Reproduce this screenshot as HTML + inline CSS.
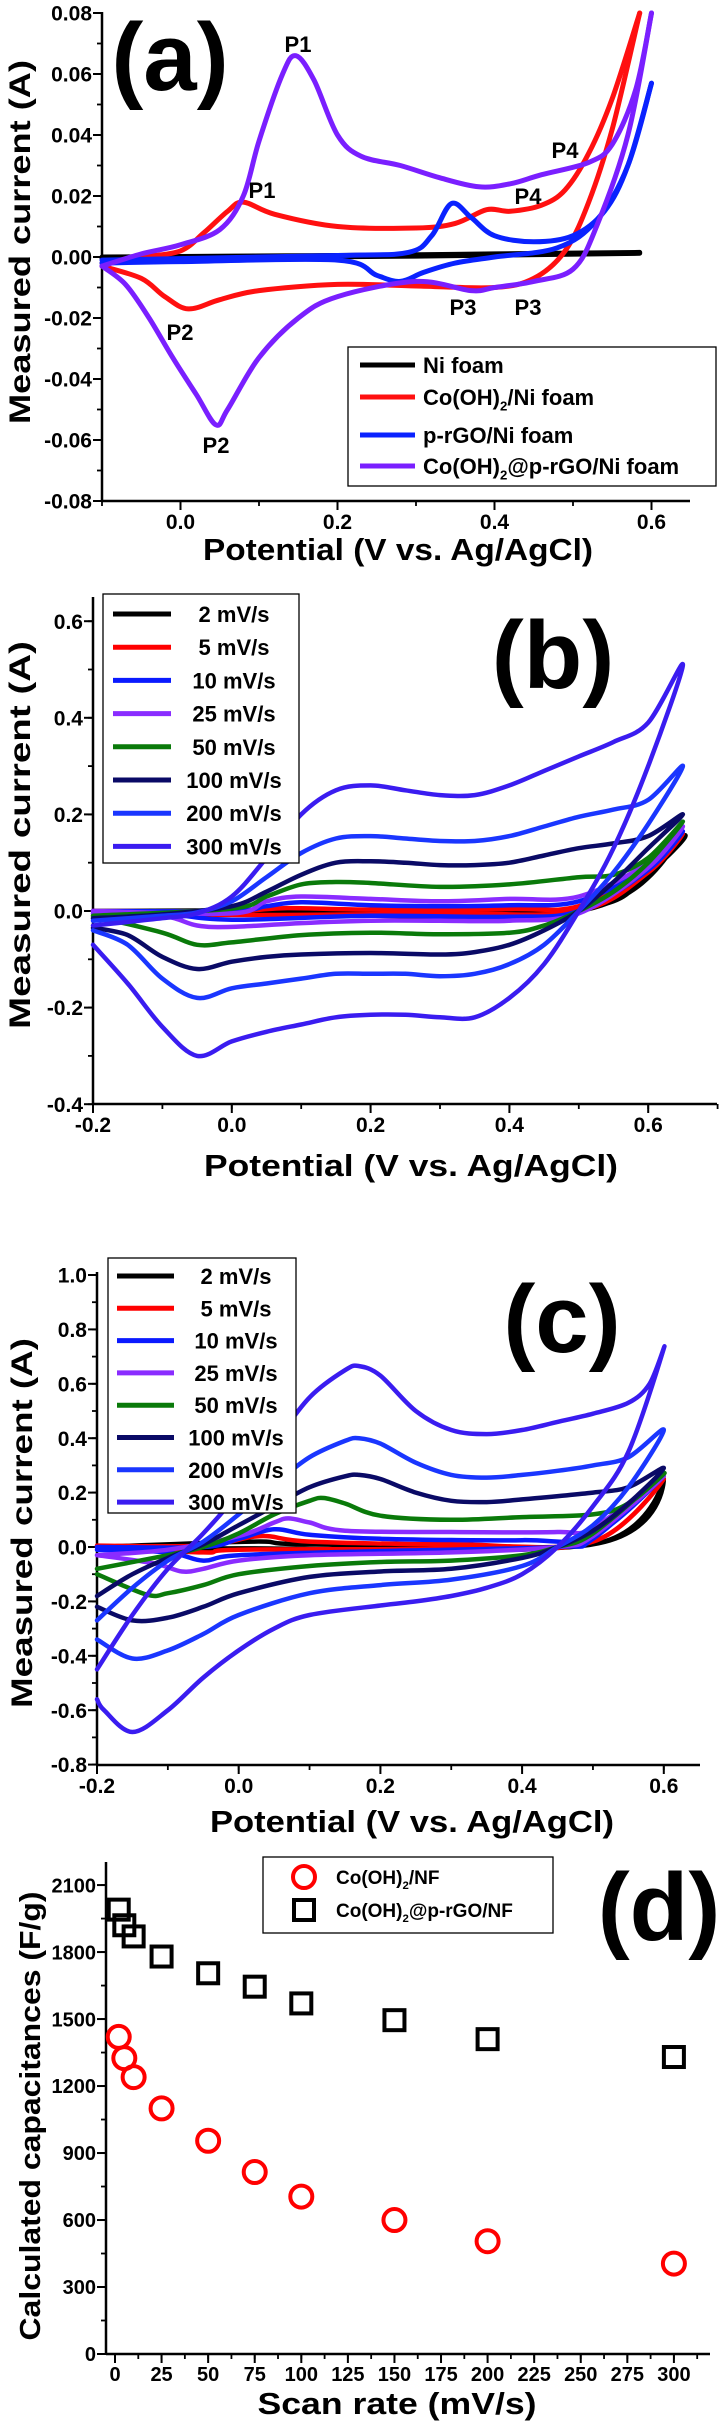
<!DOCTYPE html>
<html><head><meta charset="utf-8">
<style>
html,body{margin:0;padding:0;background:#fff;}
svg{display:block;font-family:"Liberation Sans",Arial,sans-serif;font-weight:bold;}
</style></head>
<body>
<svg id="fig" width="719" height="2421" viewBox="0 0 719 2421" xmlns="http://www.w3.org/2000/svg"></svg>
<script>
// ---------- Panel (a) data ----------
const aNiAn=[[-0.1,0.0],[0.2,0.0005],[0.4,0.001],[0.585,0.0015]];
const aNiCa=[[0.585,0.0012],[0.3,0.0003],[-0.1,-0.0005]];
const aCoAn=[[-0.1,-0.002],[-0.05,0.0],[0.0,0.002],[0.03,0.008],[0.06,0.015],[0.08,0.018],[0.12,0.014],[0.2,0.010],[0.3,0.0095],[0.35,0.011],[0.39,0.0155],[0.42,0.015],[0.46,0.017],[0.49,0.022],[0.52,0.034],[0.55,0.052],[0.585,0.08]];
const aCoCa=[[0.585,0.08],[0.55,0.042],[0.52,0.018],[0.49,0.002],[0.45,-0.007],[0.4,-0.010],[0.3,-0.0095],[0.2,-0.009],[0.1,-0.011],[0.05,-0.014],[0.01,-0.017],[-0.02,-0.013],[-0.05,-0.007],[-0.1,-0.003]];
const aGoAn=[[-0.1,-0.001],[0.2,0.0005],[0.29,0.0015],[0.32,0.007],[0.345,0.0175],[0.37,0.013],[0.4,0.007],[0.45,0.005],[0.5,0.007],[0.54,0.015],[0.57,0.03],[0.6,0.057]];
const aGoCa=[[0.6,0.057],[0.57,0.03],[0.53,0.012],[0.48,0.003],[0.4,0.0],[0.35,-0.002],[0.31,-0.005],[0.28,-0.008],[0.25,-0.006],[0.2,-0.001],[0.0,-0.0015],[-0.1,-0.002]];
const aCgAn=[[-0.1,-0.003],[-0.05,0.001],[0.0,0.004],[0.05,0.009],[0.08,0.02],[0.1,0.038],[0.13,0.06],[0.147,0.066],[0.17,0.058],[0.2,0.04],[0.23,0.033],[0.28,0.03],[0.33,0.026],[0.38,0.023],[0.42,0.024],[0.46,0.027],[0.52,0.031],[0.55,0.037],[0.58,0.055],[0.6,0.08]];
const aCgCa=[[0.6,0.08],[0.57,0.04],[0.53,0.01],[0.5,-0.004],[0.45,-0.008],[0.4,-0.01],[0.37,-0.011],[0.3,-0.008],[0.2,-0.013],[0.15,-0.02],[0.1,-0.033],[0.06,-0.05],[0.045,-0.055],[0.02,-0.045],[-0.01,-0.033],[-0.04,-0.02],[-0.07,-0.009],[-0.1,-0.003]];
const aLegend=["Ni foam","Co(OH)2/Ni foam","p-rGO/Ni foam","Co(OH)2@p-rGO/Ni foam"];
const aYTicks=[0.08,0.06,0.04,0.02,0.00,-0.02,-0.04,-0.06,-0.08];
const aYLabels=["0.08","0.06","0.04","0.02","0.00","-0.02","-0.04","-0.06","-0.08"];
const aXTicks=[0.0,0.2,0.4,0.6];
const aXLabels=["0.0","0.2","0.4","0.6"];

// ---------- Panel (b) data ----------
const bRates=["2 mV/s","5 mV/s","10 mV/s","25 mV/s","50 mV/s","100 mV/s","200 mV/s","300 mV/s"];
const b2=[[-0.2,0],[0.1,0.002],[0.5,0.005],[0.6,0.08],[0.65,0.155],[0.5,0],[0,-0.003],[-0.2,0]];
const b5=[[-0.2,0],[0,0],[0.08,0.006],[0.2,0.003],[0.4,0.004],[0.5,0.01],[0.6,0.085],[0.65,0.16],[0.6,0.08],[0.5,0],[0.3,-0.005],[0,-0.008],[-0.2,0]];
const b10=[[-0.2,0],[0,0],[0.05,0.01],[0.1,0.018],[0.2,0.012],[0.3,0.01],[0.4,0.012],[0.5,0.02],[0.6,0.09],[0.65,0.165],[0.6,0.085],[0.5,0],[0.4,-0.012],[0.2,-0.01],[0,-0.018],[-0.1,-0.005],[-0.2,0]];
const b25=[[-0.2,0],[0,-0.005],[0.05,0.02],[0.1,0.03],[0.2,0.025],[0.3,0.02],[0.4,0.025],[0.5,0.03],[0.6,0.1],[0.65,0.175],[0.6,0.09],[0.5,-0.005],[0.4,-0.02],[0.3,-0.02],[0.2,-0.02],[0.1,-0.025],[0,-0.033],[-0.05,-0.03],[-0.1,-0.01],[-0.2,-0.005]];
const b50=[[-0.2,-0.01],[0,0.005],[0.05,0.03],[0.1,0.055],[0.15,0.06],[0.2,0.058],[0.3,0.05],[0.4,0.055],[0.5,0.07],[0.55,0.075],[0.6,0.11],[0.65,0.185],[0.6,0.1],[0.55,0.04],[0.5,0],[0.45,-0.03],[0.4,-0.045],[0.3,-0.048],[0.2,-0.045],[0.1,-0.05],[0,-0.065],[-0.05,-0.07],[-0.1,-0.045],[-0.2,-0.01]];
const b100=[[-0.2,-0.015],[-0.1,-0.007],[0,0.01],[0.05,0.04],[0.1,0.075],[0.15,0.1],[0.2,0.103],[0.25,0.1],[0.3,0.095],[0.35,0.095],[0.4,0.1],[0.45,0.115],[0.5,0.13],[0.55,0.14],[0.6,0.155],[0.65,0.2],[0.6,0.13],[0.55,0.06],[0.5,0],[0.45,-0.04],[0.4,-0.07],[0.35,-0.085],[0.3,-0.09],[0.2,-0.087],[0.1,-0.09],[0.05,-0.095],[0,-0.105],[-0.05,-0.12],[-0.1,-0.095],[-0.15,-0.05],[-0.2,-0.035]];
const b200=[[-0.2,-0.02],[-0.1,-0.01],[-0.05,-0.003],[0,0.02],[0.05,0.07],[0.1,0.12],[0.15,0.15],[0.2,0.155],[0.25,0.15],[0.3,0.145],[0.35,0.145],[0.4,0.155],[0.45,0.175],[0.5,0.195],[0.55,0.21],[0.6,0.23],[0.65,0.3],[0.6,0.18],[0.55,0.08],[0.5,0],[0.45,-0.07],[0.4,-0.11],[0.35,-0.13],[0.3,-0.135],[0.25,-0.13],[0.2,-0.13],[0.15,-0.13],[0.1,-0.14],[0.05,-0.15],[0,-0.16],[-0.05,-0.18],[-0.1,-0.14],[-0.15,-0.07],[-0.2,-0.04]];
const b300=[[-0.2,-0.03],[-0.1,-0.015],[-0.05,-0.005],[0,0.03],[0.05,0.11],[0.1,0.2],[0.15,0.25],[0.2,0.26],[0.25,0.25],[0.3,0.24],[0.35,0.24],[0.4,0.26],[0.45,0.29],[0.5,0.32],[0.55,0.35],[0.6,0.39],[0.65,0.51],[0.6,0.3],[0.55,0.13],[0.5,0],[0.45,-0.11],[0.4,-0.18],[0.35,-0.22],[0.3,-0.22],[0.25,-0.215],[0.2,-0.215],[0.15,-0.22],[0.1,-0.235],[0.05,-0.25],[0,-0.27],[-0.05,-0.3],[-0.1,-0.24],[-0.15,-0.15],[-0.2,-0.07]];
const bYTicks=[0.6,0.4,0.2,0.0,-0.2,-0.4];
const bYLabels=["0.6","0.4","0.2","0.0","-0.2","-0.4"];
const bXTicks=[-0.2,0.0,0.2,0.4,0.6];
const bXLabels=["-0.2","0.0","0.2","0.4","0.6"];

// ---------- Panel (c) data ----------
const c2=[[-0.2,0],[0.02,0.02],[0.1,0.01],[0.5,0.01],[0.6,0.25],[0.5,0.01],[0,-0.005],[-0.2,0]];
const c5=[[-0.2,0.005],[-0.05,0.005],[0.03,0.04],[0.1,0.02],[0.3,0.01],[0.5,0.02],[0.6,0.25],[0.5,0.02],[0.3,-0.005],[0,-0.01],[-0.05,-0.02],[-0.2,0]];
const c10=[[-0.2,0],[-0.05,0],[0,0.03],[0.05,0.065],[0.1,0.045],[0.2,0.03],[0.4,0.025],[0.5,0.04],[0.6,0.26],[0.5,0.03],[0.45,0],[0.2,-0.015],[0,-0.03],[-0.05,-0.05],[-0.1,-0.02],[-0.2,-0.01]];
const c25=[[-0.2,-0.03],[-0.1,-0.01],[0,0.04],[0.05,0.09],[0.07,0.105],[0.1,0.09],[0.15,0.06],[0.3,0.055],[0.45,0.055],[0.5,0.07],[0.6,0.26],[0.5,0.04],[0.45,0],[0.3,-0.02],[0.1,-0.03],[0,-0.05],[-0.05,-0.08],[-0.08,-0.09],[-0.12,-0.06],[-0.2,-0.03]];
const c50=[[-0.2,-0.08],[-0.1,-0.03],[-0.05,0],[0,0.05],[0.05,0.12],[0.1,0.17],[0.12,0.18],[0.15,0.16],[0.2,0.115],[0.3,0.1],[0.4,0.11],[0.5,0.12],[0.55,0.16],[0.6,0.27],[0.5,0.05],[0.45,0],[0.4,-0.03],[0.3,-0.05],[0.2,-0.055],[0.1,-0.07],[0,-0.1],[-0.05,-0.14],[-0.1,-0.17],[-0.13,-0.175],[-0.2,-0.1]];
const c100=[[-0.2,-0.18],[-0.15,-0.1],[-0.1,-0.04],[-0.05,0.01],[0,0.08],[0.05,0.15],[0.1,0.22],[0.15,0.26],[0.17,0.265],[0.2,0.25],[0.25,0.2],[0.3,0.17],[0.35,0.165],[0.4,0.175],[0.5,0.2],[0.55,0.22],[0.6,0.29],[0.55,0.16],[0.5,0.06],[0.45,0],[0.4,-0.04],[0.3,-0.08],[0.2,-0.09],[0.1,-0.11],[0,-0.17],[-0.05,-0.22],[-0.1,-0.26],[-0.15,-0.27],[-0.2,-0.22]];
const c200=[[-0.2,-0.27],[-0.15,-0.15],[-0.1,-0.05],[-0.05,0.02],[0,0.12],[0.05,0.23],[0.1,0.33],[0.15,0.39],[0.17,0.4],[0.2,0.38],[0.25,0.31],[0.3,0.265],[0.35,0.255],[0.4,0.265],[0.45,0.28],[0.5,0.3],[0.55,0.33],[0.6,0.43],[0.55,0.22],[0.5,0.08],[0.45,0],[0.4,-0.07],[0.3,-0.12],[0.2,-0.14],[0.1,-0.17],[0,-0.25],[-0.05,-0.32],[-0.1,-0.38],[-0.15,-0.41],[-0.2,-0.34]];
const c300=[[-0.2,-0.45],[-0.15,-0.25],[-0.1,-0.08],[-0.05,0.05],[0,0.2],[0.05,0.38],[0.1,0.55],[0.15,0.65],[0.17,0.665],[0.2,0.63],[0.25,0.5],[0.3,0.43],[0.35,0.415],[0.4,0.43],[0.45,0.46],[0.5,0.49],[0.55,0.53],[0.58,0.6],[0.6,0.73],[0.55,0.35],[0.5,0.15],[0.45,0],[0.4,-0.1],[0.35,-0.15],[0.3,-0.18],[0.25,-0.2],[0.2,-0.215],[0.1,-0.25],[0.05,-0.3],[0,-0.38],[-0.05,-0.48],[-0.1,-0.6],[-0.15,-0.68],[-0.19,-0.6],[-0.2,-0.56]];
const cYTicks=[1.0,0.8,0.6,0.4,0.2,0.0,-0.2,-0.4,-0.6,-0.8];
const cYLabels=["1.0","0.8","0.6","0.4","0.2","0.0","-0.2","-0.4","-0.6","-0.8"];
const cXTicks=[-0.2,0.0,0.2,0.4,0.6];
const cXLabels=["-0.2","0.0","0.2","0.4","0.6"];

// ---------- Panel (d) data ----------
const dRates=[2,5,10,25,50,75,100,150,200,300];
const dCo=[1420,1325,1240,1100,955,815,705,600,505,405];
const dCoG=[1990,1920,1870,1780,1705,1645,1570,1495,1410,1330];
const dYTicks=[0,300,600,900,1200,1500,1800,2100];
const dXTicks=[0,25,50,75,100,125,150,175,200,225,250,275,300];

const rateColors=["#000000","#ff0000","#0a1aff","#8a2cff","#0a7a0a","#0a0a66","#1a36ff","#3a1cf0"];

const NS="http://www.w3.org/2000/svg";
const svg=document.getElementById('fig');
function el(tag,attrs,parent,text){
  const e=document.createElementNS(NS,tag);
  for(const k in attrs)e.setAttribute(k,attrs[k]);
  if(text!==undefined)e.textContent=text;
  (parent||svg).appendChild(e);return e;
}
function smoothPath(pts){
  let d="M"+pts[0][0].toFixed(1)+","+pts[0][1].toFixed(1);
  for(let i=0;i<pts.length-1;i++){
    const p0=pts[Math.max(0,i-1)],p1=pts[i],p2=pts[i+1],p3=pts[Math.min(pts.length-1,i+2)];
    const c1x=p1[0]+(p2[0]-p0[0])/6,c1y=p1[1]+(p2[1]-p0[1])/6;
    const c2x=p2[0]-(p3[0]-p1[0])/6,c2y=p2[1]-(p3[1]-p1[1])/6;
    d+=" C"+c1x.toFixed(1)+","+c1y.toFixed(1)+" "+c2x.toFixed(1)+","+c2y.toFixed(1)+" "+p2[0].toFixed(1)+","+p2[1].toFixed(1);
  }
  return d;
}
function makeAxes(g,cfg){
  // cfg: xs, ys, left, right, top, bottom, yTicks,yLabels,yMinor, xTicks,xLabels,xMinor, fs
  el('line',{x1:cfg.left,y1:cfg.top,x2:cfg.left,y2:cfg.bottom,stroke:'#000','stroke-width':2.5},g);
  el('line',{x1:cfg.left,y1:cfg.bottom,x2:cfg.right,y2:cfg.bottom,stroke:'#000','stroke-width':2.5},g);
  cfg.yMinor.forEach(v=>{const y=cfg.ys(v);el('line',{x1:cfg.left-5,y1:y,x2:cfg.left,y2:y,stroke:'#000','stroke-width':1.8},g);});
  cfg.xMinor.forEach(v=>{const x=cfg.xs(v);el('line',{x1:x,y1:cfg.bottom,x2:x,y2:cfg.bottom+5,stroke:'#000','stroke-width':1.8},g);});
  cfg.yTicks.forEach((v,i)=>{const y=cfg.ys(v);
    el('line',{x1:cfg.left-9,y1:y,x2:cfg.left,y2:y,stroke:'#000','stroke-width':2},g);
    const t=el('text',{x:cfg.left-10,y:y+cfg.fs*0.36,'text-anchor':'end','font-size':cfg.fs},g,cfg.yLabels[i]);
    
    
  });
  cfg.xTicks.forEach((v,i)=>{const x=cfg.xs(v);
    el('line',{x1:x,y1:cfg.bottom,x2:x,y2:cfg.bottom+9,stroke:'#000','stroke-width':2},g);
    const t=el('text',{x:x,y:cfg.bottom+9+cfg.fs*0.9,'text-anchor':'middle','font-size':cfg.fs},g,cfg.xLabels[i]);
    
    
  });
}
function range(a,b,s){const r=[];for(let v=a;v<=b+1e-9;v+=s)r.push(+v.toFixed(4));return r;}
function curve(g,data,xs,ys,color,w,name){
  const p=el('path',{d:smoothPath(data.map(d=>[xs(d[0]),ys(d[1])])),fill:'none',stroke:color,'stroke-width':w,'stroke-linejoin':'round','stroke-linecap':'round'},g);
  
  
}
function subLabel(g,x,y,parts,fs){
  const t=el('text',{x:x,y:y,'font-size':fs},g);
  parts.forEach(p=>{
    const s=el('tspan',{},t,p.t);
    if(p.sub){s.setAttribute('font-size',fs*0.6);s.setAttribute('dy',fs*0.25);}
    if(p.back){s.setAttribute('dy',-fs*0.25);}
  });
  return t;
}

// ================= Panel (a) =================
(function(){
  const g=el('g',{});
  
  
  const xs=v=>102+(v+0.1)*785, ys=v=>257-v*3050;
  makeAxes(g,{xs,ys,left:102,right:690,top:12,bottom:501,yTicks:aYTicks,yLabels:aYLabels,yMinor:range(-0.08,0.08,0.01),xTicks:aXTicks,xLabels:aXLabels,xMinor:range(-0.1,0.6,0.1),fs:21});
  const title=el('text',{x:398,y:560,'text-anchor':'middle','font-size':31,textLength:390,lengthAdjust:'spacingAndGlyphs'},g,'Potential (V vs. Ag/AgCl)');
  
  
  const yt=el('text',{x:0,y:0,'text-anchor':'middle','font-size':30,textLength:364,lengthAdjust:'spacingAndGlyphs',transform:'translate(30,242) rotate(-90)'},g,'Measured current (A)');
  
  
  const lab=el('text',{x:170,y:90,'text-anchor':'middle','font-size':96},g,'(a)');
  
  
  curve(g,aNiAn,xs,ys,'#000',5,'ni-foam-anodic');curve(g,aNiCa,xs,ys,'#000',5,'ni-foam-cathodic');
  curve(g,aCoAn,xs,ys,'#ff1010',5,'co-oh2-anodic');curve(g,aCoCa,xs,ys,'#ff1010',5,'co-oh2-cathodic');
  curve(g,aGoAn,xs,ys,'#0a22ff',5,'prgo-anodic');curve(g,aGoCa,xs,ys,'#0a22ff',5,'prgo-cathodic');
  curve(g,aCgAn,xs,ys,'#7a1fff',5,'co-prgo-anodic');curve(g,aCgCa,xs,ys,'#7a1fff',5,'co-prgo-cathodic');
  [['P1',298,52],['P1',262,198],['P2',180,340],['P2',216,453],['P3',463,315],['P3',528,315],['P4',565,158],['P4',528,204]].forEach(p=>{
    const t=el('text',{x:p[1],y:p[2],'text-anchor':'middle','font-size':22},g,p[0]);
    
    
  });
  const lg=el('g',{},g);
  
  
  el('rect',{x:348,y:347,width:368,height:139,fill:'#fff',stroke:'#000','stroke-width':1.3},lg);
  const cols=['#000','#ff1010','#0a22ff','#7a1fff'];
  const ly=[365,397,435,466];
  aLegend.forEach((n,i)=>{
    el('line',{x1:360,y1:ly[i],x2:415,y2:ly[i],stroke:cols[i],'stroke-width':5},lg);
    let t;
    if(i===1) t=subLabel(lg,423,ly[i]+8,[{t:'Co(OH)'},{t:'2',sub:1},{t:'/Ni foam',back:1}],22);
    else if(i===3) t=subLabel(lg,423,ly[i]+8,[{t:'Co(OH)'},{t:'2',sub:1},{t:'@p-rGO/Ni foam',back:1}],22);
    else t=el('text',{x:423,y:ly[i]+8,'font-size':22},lg,n);
    
    
  });
})();

// ============ Panels (b) and (c) ============
function cvPanel(cfg){
  const g=el('g',{});
  
  
  makeAxes(g,cfg);
  cfg.series.forEach((s,i)=>curve(g,s,cfg.xs,cfg.ys,rateColors[i],4.5,'cv-'+bRates[i].replace(' mV/s','')+'-mvs'));
  const lg=el('g',{},g);
  
  
  el('rect',{x:cfg.lgX,y:cfg.lgY,width:cfg.lgW,height:cfg.lgH,fill:'#fff',stroke:'#000','stroke-width':1.3},lg);
  bRates.forEach((r,i)=>{
    const y=cfg.lgFirst+i*cfg.lgStep;
    el('line',{x1:cfg.lgL1,y1:y,x2:cfg.lgL2,y2:y,stroke:rateColors[i],'stroke-width':5},lg);
    const t=el('text',{x:cfg.lgT,y:y+8,'text-anchor':'middle','font-size':22},lg,r);
    
    
  });
  const xt=el('text',{x:cfg.xtX,y:cfg.xtY,'text-anchor':'middle','font-size':31,textLength:cfg.xtW,lengthAdjust:'spacingAndGlyphs'},g,'Potential (V vs. Ag/AgCl)');
  
  
  const yt=el('text',{x:0,y:0,'text-anchor':'middle','font-size':30,textLength:cfg.ytW,lengthAdjust:'spacingAndGlyphs',transform:'translate('+cfg.ytX+','+cfg.ytY+') rotate(-90)'},g,'Measured current (A)');
  
  
  const lab=el('text',{x:cfg.labX,y:cfg.labY,'text-anchor':'middle','font-size':96},g,cfg.lab);
  
  
}
cvPanel({name:'panel-b',lab:'(b)',labX:553,labY:688,
  xs:v=>93+(v+0.2)*694, ys:v=>911-v*483, left:93,right:717,top:597,bottom:1104,
  yTicks:bYTicks,yLabels:bYLabels,yMinor:range(-0.4,0.6,0.1),xTicks:bXTicks,xLabels:bXLabels,xMinor:range(-0.2,0.7,0.1),fs:21,
  series:[b2,b5,b10,b25,b50,b100,b200,b300],
  lgX:103,lgY:594,lgW:196,lgH:269,lgFirst:614,lgStep:33.2,lgL1:113,lgL2:171,lgT:234,
  xtX:411,xtY:1176,xtW:414,ytX:30,ytY:835,ytW:388});
cvPanel({name:'panel-c',lab:'(c)',labX:562,labY:1352,
  xs:v=>97+(v+0.2)*708.5, ys:v=>1547-v*272, left:97,right:700,top:1272,bottom:1765,
  yTicks:cYTicks,yLabels:cYLabels,yMinor:range(-0.8,1.0,0.1),xTicks:cXTicks,xLabels:cXLabels,xMinor:range(-0.2,0.6,0.1),fs:21,
  series:[c2,c5,c10,c25,c50,c100,c200,c300],
  lgX:108,lgY:1258,lgW:188,lgH:255,lgFirst:1276,lgStep:32.3,lgL1:117,lgL2:174,lgT:236,
  xtX:412,xtY:1832,xtW:404,ytX:32,ytY:1523,ytW:370});

// ================= Panel (d) =================
(function(){
  const g=el('g',{});
  
  
  const xs=v=>115+v*1.863, ys=v=>2354-v*0.2233;
  makeAxes(g,{xs,ys,left:106,right:710,top:1862,bottom:2354,yTicks:dYTicks,yLabels:dYTicks.map(String),yMinor:range(0,2200,150),xTicks:dXTicks,xLabels:dXTicks.map(String),xMinor:range(0,312.5,12.5),fs:20});
  dRates.forEach((r,i)=>{
    const c=el('circle',{cx:xs(r),cy:ys(dCo[i]),r:11,fill:'none',stroke:'#ff0000','stroke-width':4},g);
    
    
    const s=el('rect',{x:xs(r)-10,y:ys(dCoG[i])-10,width:20,height:20,fill:'none',stroke:'#000','stroke-width':4},g);
    
    
  });
  const lg=el('g',{},g);
  
  
  el('rect',{x:263,y:1857,width:290,height:76,fill:'#fff',stroke:'#000','stroke-width':1.3},lg);
  el('circle',{cx:304,cy:1877,r:11,fill:'none',stroke:'#ff0000','stroke-width':4},lg);
  el('rect',{x:294,y:1900,width:20,height:20,fill:'none',stroke:'#000','stroke-width':4},lg);
  const t1=subLabel(lg,336,1884,[{t:'Co(OH)'},{t:'2',sub:1},{t:'/NF',back:1}],19);
  
  
  const t2=subLabel(lg,336,1917,[{t:'Co(OH)'},{t:'2',sub:1},{t:'@p-rGO/NF',back:1}],19);
  
  
  const xt=el('text',{x:397,y:2414,'text-anchor':'middle','font-size':31,textLength:279,lengthAdjust:'spacingAndGlyphs'},g,'Scan rate (mV/s)');
  
  
  const yt=el('text',{x:0,y:0,'text-anchor':'middle','font-size':29,textLength:449,lengthAdjust:'spacingAndGlyphs',transform:'translate(40,2116) rotate(-90)'},g,'Calculated capacitances (F/g)');
  
  
  const lab=el('text',{x:659,y:1940,'text-anchor':'middle','font-size':96},g,'(d)');
  
  
})();
</script>
</body></html>
